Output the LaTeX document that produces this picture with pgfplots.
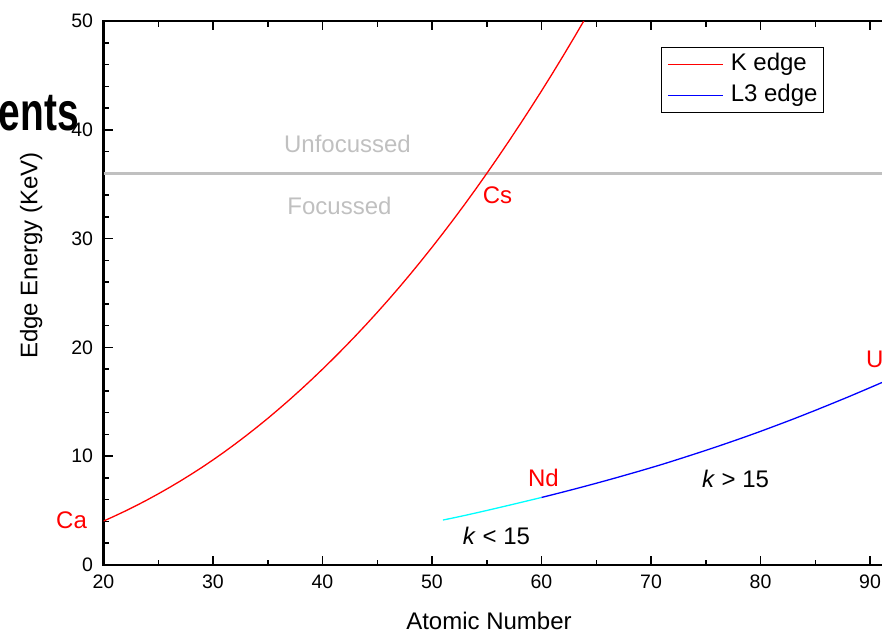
\documentclass[border=0pt]{standalone}
\usepackage{fontspec}
\setmainfont{Liberation Sans}
\usepackage{pgfplots}
\pgfplotsset{compat=1.18}
\definecolor{lgray}{RGB}{192,192,192}
\definecolor{mycyan}{RGB}{0,255,255}
\definecolor{myred}{RGB}{255,0,0}
\definecolor{myblue}{RGB}{0,0,255}
\pgfplotsset{legend image code/.code={\draw[#1] (0pt,0pt) -- (55pt,0pt);}}
\begin{document}
\begin{tikzpicture}
\begin{axis}[
  at={(0pt,0pt)}, anchor=south west,
  scale only axis, width=788.4pt, height=544pt,
  xmin=20, xmax=92, ymin=0, ymax=50,
  xtick={20,30,...,90}, ytick={0,10,...,50},
  minor x tick num=1, minor y tick num=4,
  tick align=inside,
  major tick length=9pt, minor tick length=5.5pt,
  axis line style={line width=2.2pt},
  every tick/.style={black, line width=1.5pt},
  tick label style={font=\fontsize{19.5}{23}\selectfont},
  /pgf/number format/assume math mode=true,
  xticklabel style={yshift=-6.5pt},
  yticklabel style={xshift=-7pt},
  clip mode=individual,
  legend cell align=left,
  legend style={at={(0.7071,0.9522)}, anchor=north west, draw=black, line width=1pt,
    font=\fontsize{24}{28}\selectfont, inner sep=6pt, row sep=9pt, column sep=7pt,
    nodes={inner sep=0pt, text height=17pt, text depth=5pt}},
]
\addplot[lgray, line width=3.5pt, forget plot] coordinates {(20,36) (92,36)};
\addplot[myred, line width=1.3pt] coordinates {
(20,4.038) (21,4.492) (22,4.966) (23,5.465) (24,5.989) (25,6.539) (26,7.112)
(27,7.709) (28,8.333) (29,8.979) (30,9.659) (31,10.367) (32,11.103) (33,11.867)
(34,12.658) (35,13.474) (36,14.326) (37,15.200) (38,16.105) (39,17.038) (40,17.998)
(41,18.986) (42,20.000) (43,21.044) (44,22.117) (45,23.220) (46,24.350) (47,25.514)
(48,26.711) (49,27.940) (50,29.200) (51,30.491) (52,31.814) (53,33.169) (54,34.561)
(55,35.985) (56,37.441) (57,38.925) (58,40.443) (59,41.991) (60,43.569) (61,45.184)
(62,46.834) (63,48.519) (64,50.239) (65,51.996)};
\addlegendentry{K edge}
\addplot[mycyan, line width=1.3pt, forget plot] coordinates {
(51,4.132) (52,4.341) (53,4.557) (54,4.782) (55,5.012) (56,5.247) (57,5.483)
(58,5.723) (59,5.964) (60,6.208)};
\addplot[myblue, line width=1.3pt] coordinates {
(60,6.208) (61,6.459) (62,6.716) (63,6.977) (64,7.243) (65,7.514) (66,7.790)
(67,8.071) (68,8.358) (69,8.648) (70,8.944) (71,9.244) (72,9.561) (73,9.881)
(74,10.207) (75,10.535) (76,10.871) (77,11.215) (78,11.564) (79,11.919) (80,12.284)
(81,12.658) (82,13.035) (83,13.419) (84,13.814) (85,14.214) (86,14.619) (87,15.031)
(88,15.444) (89,15.871) (90,16.300) (91,16.733) (92,17.166)};
\addlegendentry{L3 edge}
\begin{scope}[every node/.style={anchor=base, inner sep=0pt, font=\fontsize{24}{28}\selectfont}]
\node[lgray] at (axis cs:42.28,37.87) {Unfocussed};
\node[lgray] at (axis cs:41.55,32.17) {Focussed};
\node[myred] at (axis cs:55.98,33.27) {Cs};
\node[myred] at (axis cs:17.08,3.40) {Ca};
\node[myred] at (axis cs:60.18,7.17) {Nd};
\node[myred] at (axis cs:90.43,18.11) {U};
\node at (axis cs:77.72,7.08) {\textit{k} > 15};
\node at (axis cs:55.89,1.84) {\textit{k} < 15};
\end{scope}
\end{axis}
\node[anchor=base, inner sep=0pt, font=\fontsize{24}{28}\selectfont] at (385.5pt,-64.3pt) {Atomic Number};
\node[anchor=base, rotate=90, inner sep=0pt, font=\fontsize{24}{28}\selectfont] at (-66pt,309.4pt) {Edge Energy (KeV)};
\node[anchor=base east, inner sep=0pt, font=\fontsize{54}{60}\selectfont\bfseries] at (-24.5pt,435pt) {\scalebox{0.72}[1]{ents}};
\pgfresetboundingbox
\useasboundingbox (-103.5pt,-68pt) rectangle (778.5pt,565pt);
\end{tikzpicture}
\end{document}
